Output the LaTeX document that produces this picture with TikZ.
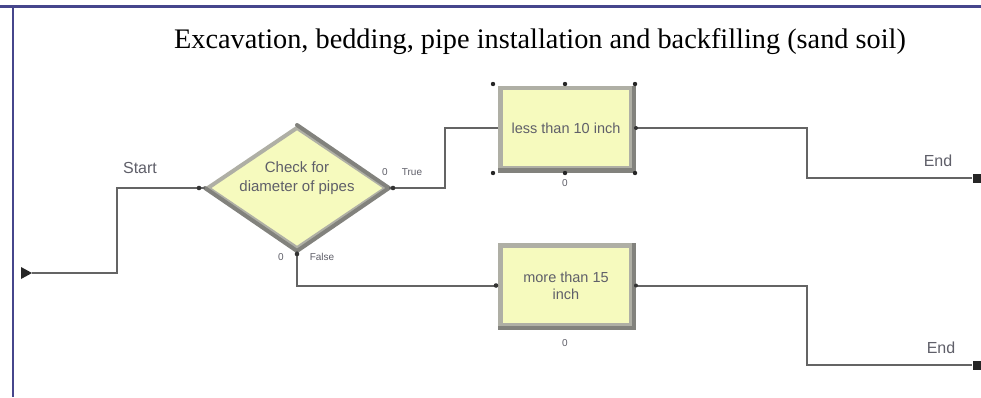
\documentclass[tikz,border=0pt]{standalone}
\usepackage{fontspec}
\setmainfont{Liberation Serif}
\newfontfamily\arialf{Liberation Sans}
\usetikzlibrary{shapes.geometric}
\definecolor{fillY}{RGB}{246,250,190}
\definecolor{frameB}{RGB}{70,70,140}
\definecolor{lineG}{RGB}{100,100,100}
\definecolor{txtG}{RGB}{95,95,105}
\definecolor{bordL}{RGB}{175,175,165}
\definecolor{bordD}{RGB}{130,130,125}
\tikzset{
  conn/.style={lineG, line width=2pt},
  decide/.style={shape=diamond, draw=bordL, line width=4pt, fill=fillY,
    minimum width=180pt, minimum height=122pt, inner sep=0pt},
  dectxt/.style={align=center, inner sep=0pt,
    text=txtG, font=\arialf\fontsize{15}{19.5}\selectfont},
  procbox/.style={shape=rectangle, draw=bordL, line width=4.5pt, fill=fillY,
    minimum width=131pt, minimum height=80pt, inner sep=0pt, align=center,
    text=txtG, font=\arialf\fontsize{14.5}{17}\selectfont},
  endsq/.style={shape=rectangle, fill=black!85, minimum size=9pt, inner sep=0pt},
  lbl/.style={text=txtG, font=\arialf\fontsize{16}{18}\selectfont, inner sep=0pt},
  tiny/.style={text=txtG, font=\arialf\fontsize{10}{11}\selectfont, inner sep=0pt},
  portdot/.style={fill=black!80},
  handle/.style={fill=black!85}
}
\begin{document}
\begin{tikzpicture}[x=1pt,y=-1pt]
\useasboundingbox (0,0) rectangle (981,397);
\fill[white] (0,0) rectangle (981,397);
\draw[frameB, line width=3pt] (0,6) -- (981,6);
\draw[frameB, line width=2pt] (13,6) -- (13,397);

\node[anchor=base, inner sep=0pt, font=\fontsize{28.3}{30}\selectfont] (title) at (540,48.3)
  {Excavation, bedding, pipe installation and backfilling (sand soil)};

% start
\coordinate (st) at (32,273);
\fill[black!85] (21,267) -- (32,273) -- (21,279) -- cycle;
\node[lbl] (startlbl) at (140,168) {Start};

% decide
\node[decide] (dec) at (297,188) {};
\draw[bordD, line width=4pt, line cap=round] (dec.north) -- (dec.east) -- (dec.south) -- (dec.west);
\node[dectxt] (dectext) at (297,178) {Check for\\diameter of pipes};

% processes
\node[procbox] (p1) at (566,128) {less than 10 inch};
\draw[bordD, line width=4.5pt] (p1.north east) -- (p1.south east) -- (p1.south west);
\node[procbox] (p2) at (566,285.5) {more than 15\\inch};
\draw[bordD, line width=4.5pt] (p2.north east) -- (p2.south east) -- (p2.south west);

% ends
\node[endsq] (end1) at (977,178) {};
\node[endsq] (end2) at (977,365) {};
\node[lbl] (endlbl1) at (938,161) {End};
\node[lbl] (endlbl2) at (941,348) {End};

% connectors
\draw[conn] (st) -- (117,273) -- (117,188) -- (dec.west);
\draw[conn] (dec.east) -- (445,188) -- (445,128) -- (p1.west);
\draw[conn] (dec.south) -- (dec.south |- p2.west) -- (p2.west);
\draw[conn] (p1.east) -- (807,128) |- (end1.west);
\draw[conn] (p2.east) -- (807,285.5) |- (end2.west);

% port dots
\fill[portdot] (199,188) circle (2.3);
\fill[portdot] (393,188) circle (2.3);
\fill[portdot] (297,254) circle (2.3);
\fill[portdot] (636,128) circle (2);
\fill[portdot] (496,285.5) circle (2.3);
\fill[portdot] (636,285.5) circle (2);

% selection handles
\foreach \hx in {493,565,635}{
  \fill[handle] (\hx,84) circle (2.2);
  \fill[handle] (\hx,173) circle (2.2);
}

% small labels
\node[tiny] (c1) at (385,172) {0};
\node[tiny] (t1) at (412,172) {True};
\node[tiny] (c2) at (281,257) {0};
\node[tiny] (f1) at (322,257) {False};
\node[tiny] (c3) at (565,183) {0};
\node[tiny] (c4) at (565,343) {0};
\end{tikzpicture}
\end{document}
